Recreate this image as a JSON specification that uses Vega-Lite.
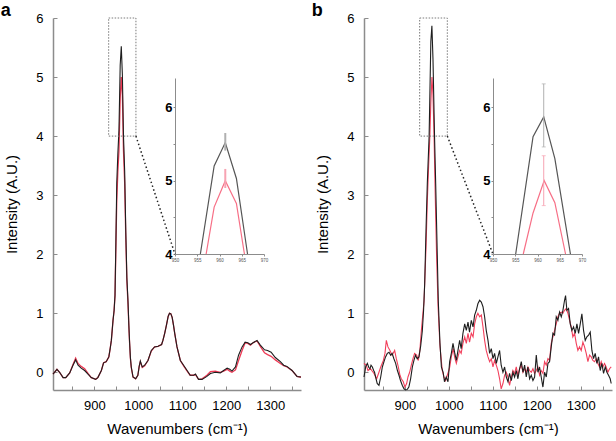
{
  "$schema": "https://vega.github.io/schema/vega-lite/v6.json",
  "padding": {"left": 0, "top": 2, "right": 0, "bottom": 0},
  "background": "white",
  "spacing": 7,
  "config": {
    "view": {"stroke": null},
    "font": "Liberation Sans",
    "scale": {"nice": false, "zero": false},
    "axis": {"grid": false, "domainColor": "#8c8c8c", "domainWidth": 1.5, "tickColor": "#8c8c8c", "labelColor": "#000", "titleColor": "#000", "labelFont": "Liberation Sans", "titleFont": "Liberation Sans", "titleFontWeight": "normal", "labelOverlap": false},
    "title": {"font": "Liberation Sans", "fontSize": 18, "fontWeight": "bold", "anchor": "start", "frame": "bounds", "offset": -8, "dx": -4, "color": "#000"}
  },
  "datasets": {
    "a_black": [
      {"x":806,"y":-0.03},{"x":815,"y":0.05},{"x":821,"y":0.0},{"x":829,"y":-0.09},{"x":835,"y":-0.09},{"x":844,"y":-0.01},{"x":851.5,"y":0.12},{"x":857.5,"y":0.21},{"x":863,"y":0.12},{"x":870,"y":0.07},{"x":878,"y":0.03},{"x":885.6,"y":-0.03},{"x":893,"y":-0.09},{"x":903,"y":-0.12},{"x":908,"y":-0.09},{"x":916,"y":0.03},{"x":921,"y":0.16},{"x":927,"y":0.18},{"x":933,"y":0.26},{"x":936,"y":0.4},{"x":938.7,"y":0.54},{"x":942.5,"y":0.88},{"x":945,"y":1.05},{"x":947,"y":1.3},{"x":949,"y":2.2},{"x":951,"y":3.2},{"x":953.5,"y":3.7},{"x":956,"y":4.1},{"x":958.8,"y":5.2},{"x":961.3,"y":5.52},{"x":963.8,"y":5.03},{"x":966.3,"y":4.0},{"x":969,"y":3.4},{"x":971.5,"y":2.4},{"x":974,"y":1.6},{"x":976.6,"y":1.2},{"x":978.5,"y":0.8},{"x":980,"y":0.54},{"x":982,"y":0.25},{"x":984,"y":0.09},{"x":988,"y":-0.08},{"x":994,"y":-0.11},{"x":999,"y":-0.05},{"x":1002,"y":0.1},{"x":1004.6,"y":0.19},{"x":1009,"y":0.09},{"x":1014.5,"y":0.12},{"x":1022,"y":0.2},{"x":1029.6,"y":0.37},{"x":1037,"y":0.43},{"x":1045,"y":0.44},{"x":1050,"y":0.46},{"x":1053,"y":0.47},{"x":1056,"y":0.54},{"x":1060,"y":0.66},{"x":1064,"y":0.8},{"x":1068,"y":0.95},{"x":1071,"y":1.0},{"x":1074,"y":0.99},{"x":1077,"y":0.93},{"x":1080,"y":0.8},{"x":1083,"y":0.65},{"x":1088,"y":0.43},{"x":1095.6,"y":0.2},{"x":1103,"y":0.12},{"x":1111,"y":0.03},{"x":1118,"y":-0.05},{"x":1126,"y":-0.05},{"x":1130,"y":-0.03},{"x":1137,"y":-0.12},{"x":1145,"y":-0.12},{"x":1156,"y":-0.07},{"x":1164,"y":-0.02},{"x":1175,"y":0.0},{"x":1186.5,"y":-0.01},{"x":1194,"y":0.03},{"x":1202,"y":0.07},{"x":1208,"y":0.05},{"x":1213,"y":0.02},{"x":1221,"y":0.09},{"x":1228,"y":0.29},{"x":1236,"y":0.43},{"x":1243,"y":0.51},{"x":1249,"y":0.5},{"x":1255,"y":0.47},{"x":1261,"y":0.5},{"x":1270,"y":0.54},{"x":1277.5,"y":0.46},{"x":1287,"y":0.38},{"x":1294,"y":0.37},{"x":1302,"y":0.34},{"x":1311.6,"y":0.25},{"x":1323,"y":0.18},{"x":1330.6,"y":0.12},{"x":1338,"y":0.1},{"x":1349.6,"y":0.03},{"x":1361,"y":-0.07},{"x":1368.5,"y":-0.08},{"x":1370,"y":-0.08}
    ],
    "a_red": [
      {"x":806,"y":-0.03},{"x":815,"y":0.05},{"x":821,"y":0.0},{"x":829,"y":-0.09},{"x":835,"y":-0.09},{"x":844,"y":-0.01},{"x":851.5,"y":0.13},{"x":857.5,"y":0.24},{"x":863,"y":0.15},{"x":870,"y":0.1},{"x":878,"y":0.06},{"x":885.6,"y":-0.02},{"x":893,"y":-0.09},{"x":903,"y":-0.12},{"x":908,"y":-0.09},{"x":916,"y":0.03},{"x":921,"y":0.16},{"x":927,"y":0.18},{"x":933,"y":0.26},{"x":936,"y":0.4},{"x":938.7,"y":0.54},{"x":942.5,"y":0.88},{"x":945,"y":1.05},{"x":947,"y":1.3},{"x":949,"y":2.1},{"x":951,"y":2.9},{"x":953.5,"y":3.4},{"x":956,"y":3.75},{"x":958.8,"y":4.64},{"x":961.3,"y":5.0},{"x":963.8,"y":4.69},{"x":966.3,"y":3.75},{"x":969,"y":3.2},{"x":971.5,"y":2.3},{"x":974,"y":1.55},{"x":976.6,"y":1.15},{"x":978.5,"y":0.78},{"x":980,"y":0.52},{"x":982,"y":0.24},{"x":984,"y":0.08},{"x":988,"y":-0.08},{"x":994,"y":-0.11},{"x":999,"y":-0.05},{"x":1002,"y":0.1},{"x":1004.6,"y":0.18},{"x":1009,"y":0.08},{"x":1014.5,"y":0.11},{"x":1022,"y":0.2},{"x":1029.6,"y":0.36},{"x":1037,"y":0.43},{"x":1045,"y":0.44},{"x":1050,"y":0.46},{"x":1053,"y":0.47},{"x":1056,"y":0.54},{"x":1060,"y":0.66},{"x":1064,"y":0.8},{"x":1068,"y":0.95},{"x":1071,"y":1.0},{"x":1074,"y":0.99},{"x":1077,"y":0.93},{"x":1080,"y":0.8},{"x":1083,"y":0.65},{"x":1088,"y":0.43},{"x":1095.6,"y":0.2},{"x":1103,"y":0.11},{"x":1111,"y":0.02},{"x":1118,"y":-0.05},{"x":1126,"y":-0.05},{"x":1130,"y":-0.04},{"x":1137,"y":-0.12},{"x":1145,"y":-0.11},{"x":1156,"y":-0.05},{"x":1164,"y":0.01},{"x":1175,"y":0.02},{"x":1186.5,"y":0.0},{"x":1194,"y":0.02},{"x":1202,"y":0.05},{"x":1208,"y":0.02},{"x":1213,"y":0.0},{"x":1221,"y":0.04},{"x":1228,"y":0.2},{"x":1236,"y":0.37},{"x":1243,"y":0.5},{"x":1249,"y":0.49},{"x":1255,"y":0.46},{"x":1261,"y":0.5},{"x":1270,"y":0.53},{"x":1277.5,"y":0.44},{"x":1287,"y":0.33},{"x":1294,"y":0.3},{"x":1302,"y":0.27},{"x":1311.6,"y":0.21},{"x":1323,"y":0.15},{"x":1330.6,"y":0.11},{"x":1338,"y":0.09},{"x":1349.6,"y":0.03},{"x":1361,"y":-0.07},{"x":1368.5,"y":-0.08},{"x":1370,"y":-0.08}
    ],
    "b_black": [
      {"x":807,"y":-0.08},{"x":811,"y":0.1},{"x":814.6,"y":0.15},{"x":818,"y":0.08},{"x":820.6,"y":0.06},{"x":823,"y":0.12},{"x":826,"y":0.09},{"x":829,"y":0.03},{"x":831,"y":0.0},{"x":834,"y":-0.1},{"x":837,"y":-0.19},{"x":841,"y":-0.22},{"x":845,"y":-0.08},{"x":848.7,"y":0.09},{"x":852.5,"y":0.18},{"x":856,"y":0.26},{"x":860,"y":0.32},{"x":864,"y":0.34},{"x":867.6,"y":0.29},{"x":871,"y":0.32},{"x":875,"y":0.23},{"x":879,"y":0.15},{"x":883,"y":0.03},{"x":886.5,"y":-0.05},{"x":890,"y":-0.14},{"x":894,"y":-0.22},{"x":898,"y":-0.28},{"x":901.7,"y":-0.3},{"x":905.5,"y":-0.29},{"x":909,"y":-0.25},{"x":913,"y":-0.11},{"x":917,"y":0.09},{"x":920.6,"y":0.2},{"x":924,"y":0.29},{"x":928,"y":0.23},{"x":932,"y":0.26},{"x":936,"y":0.45},{"x":939.6,"y":0.7},{"x":942.5,"y":1.05},{"x":945,"y":1.5},{"x":948,"y":2.4},{"x":951,"y":3.2},{"x":955.1,"y":4.0},{"x":959,"y":5.6},{"x":961.4,"y":5.87},{"x":963.9,"y":5.3},{"x":967.4,"y":4.0},{"x":970,"y":3.2},{"x":973,"y":2.2},{"x":976,"y":1.2},{"x":979.7,"y":0.5},{"x":983,"y":0.09},{"x":987,"y":0.0},{"x":990,"y":-0.16},{"x":994,"y":-0.08},{"x":998,"y":-0.16},{"x":1001.8,"y":0.18},{"x":1005.6,"y":0.32},{"x":1009.4,"y":0.49},{"x":1013,"y":0.34},{"x":1017,"y":0.2},{"x":1020.7,"y":0.37},{"x":1024.5,"y":0.54},{"x":1028,"y":0.4},{"x":1032,"y":0.66},{"x":1036,"y":0.82},{"x":1039.7,"y":0.71},{"x":1043.5,"y":0.85},{"x":1047,"y":0.68},{"x":1051,"y":0.88},{"x":1055,"y":0.77},{"x":1058.6,"y":0.97},{"x":1062.4,"y":1.05},{"x":1066,"y":1.16},{"x":1070,"y":1.22},{"x":1073.8,"y":1.19},{"x":1077.6,"y":1.11},{"x":1081.3,"y":0.94},{"x":1085,"y":0.71},{"x":1089,"y":0.54},{"x":1092.7,"y":0.32},{"x":1096.5,"y":0.4},{"x":1100.3,"y":0.23},{"x":1104,"y":0.32},{"x":1107.9,"y":0.15},{"x":1111.6,"y":0.26},{"x":1115.4,"y":0.37},{"x":1119,"y":0.12},{"x":1123,"y":0.0},{"x":1126.8,"y":0.09},{"x":1130.6,"y":-0.08},{"x":1134.4,"y":-0.16},{"x":1138,"y":-0.02},{"x":1142,"y":-0.14},{"x":1145.7,"y":0.0},{"x":1149.5,"y":-0.08},{"x":1153.3,"y":0.03},{"x":1157,"y":-0.11},{"x":1160.9,"y":0.06},{"x":1164.7,"y":0.18},{"x":1168.5,"y":0.0},{"x":1172.3,"y":0.12},{"x":1176,"y":-0.08},{"x":1179.8,"y":0.09},{"x":1183.6,"y":-0.11},{"x":1187.4,"y":-0.05},{"x":1191.2,"y":-0.14},{"x":1195,"y":-0.08},{"x":1198.8,"y":0.29},{"x":1202.5,"y":0.0},{"x":1206.3,"y":0.09},{"x":1210,"y":-0.08},{"x":1213.9,"y":-0.25},{"x":1217.7,"y":0.0},{"x":1221.5,"y":-0.08},{"x":1225.3,"y":0.15},{"x":1229,"y":0.18},{"x":1232.8,"y":0.43},{"x":1236.6,"y":0.66},{"x":1240.4,"y":0.63},{"x":1244.2,"y":0.94},{"x":1248,"y":0.88},{"x":1251.8,"y":1.02},{"x":1255.6,"y":0.94},{"x":1259.4,"y":1.05},{"x":1263.1,"y":1.22},{"x":1265.4,"y":1.3},{"x":1268.4,"y":1.05},{"x":1272.2,"y":1.08},{"x":1276,"y":0.82},{"x":1279.8,"y":0.71},{"x":1283.6,"y":0.77},{"x":1287.4,"y":0.66},{"x":1291.2,"y":0.82},{"x":1295,"y":0.66},{"x":1298.8,"y":0.82},{"x":1302.5,"y":0.99},{"x":1306.3,"y":0.71},{"x":1310.1,"y":0.54},{"x":1313.9,"y":0.6},{"x":1317.7,"y":0.63},{"x":1321.5,"y":0.68},{"x":1325.3,"y":0.37},{"x":1329,"y":0.23},{"x":1332.8,"y":0.32},{"x":1336.6,"y":0.15},{"x":1340.4,"y":0.26},{"x":1344.2,"y":0.03},{"x":1348,"y":0.15},{"x":1351.8,"y":-0.02},{"x":1355.6,"y":0.09},{"x":1359.4,"y":0.0},{"x":1363.1,"y":-0.05},{"x":1366.9,"y":-0.11},{"x":1369.2,"y":-0.19}
    ],
    "b_red": [
      {"x":807,"y":0.15},{"x":812,"y":0.12},{"x":816,"y":0.03},{"x":821.7,"y":0.06},{"x":829.7,"y":-0.02},{"x":835.8,"y":-0.11},{"x":841,"y":0.0},{"x":845,"y":0.09},{"x":851,"y":0.2},{"x":854.7,"y":0.32},{"x":857.8,"y":0.54},{"x":861.5,"y":0.43},{"x":866,"y":0.37},{"x":871,"y":0.29},{"x":876.7,"y":0.37},{"x":880.5,"y":0.23},{"x":885,"y":0.09},{"x":888.8,"y":-0.05},{"x":891.8,"y":-0.11},{"x":896.4,"y":-0.16},{"x":900,"y":-0.25},{"x":904,"y":-0.19},{"x":907,"y":-0.08},{"x":910.8,"y":0.0},{"x":914.6,"y":0.12},{"x":918.4,"y":0.23},{"x":922,"y":0.32},{"x":926.7,"y":0.29},{"x":930.5,"y":0.2},{"x":934,"y":0.37},{"x":937.5,"y":0.71},{"x":941,"y":1.0},{"x":943.5,"y":1.2},{"x":948,"y":2.1},{"x":951,"y":2.9},{"x":954,"y":3.5},{"x":956.8,"y":4.0},{"x":959,"y":4.56},{"x":961.5,"y":5.0},{"x":963.9,"y":4.7},{"x":966.3,"y":4.0},{"x":969,"y":3.0},{"x":972,"y":2.0},{"x":975.5,"y":1.1},{"x":979.7,"y":0.45},{"x":985,"y":0.03},{"x":988.8,"y":-0.08},{"x":992.6,"y":-0.14},{"x":996.4,"y":-0.05},{"x":1000,"y":0.03},{"x":1002,"y":0.09},{"x":1006,"y":0.28},{"x":1010,"y":0.4},{"x":1013,"y":0.26},{"x":1017,"y":0.15},{"x":1020.7,"y":0.26},{"x":1024.5,"y":0.37},{"x":1028,"y":0.32},{"x":1032,"y":0.49},{"x":1036,"y":0.6},{"x":1039.7,"y":0.49},{"x":1043.5,"y":0.66},{"x":1047,"y":0.51},{"x":1051,"y":0.66},{"x":1055,"y":0.6},{"x":1058.6,"y":0.82},{"x":1062.4,"y":0.94},{"x":1066,"y":1.0},{"x":1070,"y":0.94},{"x":1073.8,"y":0.97},{"x":1077.6,"y":0.77},{"x":1081.3,"y":0.54},{"x":1085,"y":0.37},{"x":1089,"y":0.26},{"x":1092.7,"y":0.18},{"x":1096.5,"y":0.23},{"x":1100.3,"y":0.09},{"x":1104,"y":0.2},{"x":1107.9,"y":0.12},{"x":1111.6,"y":0.03},{"x":1115.4,"y":-0.11},{"x":1119,"y":-0.28},{"x":1123,"y":-0.19},{"x":1126.8,"y":-0.05},{"x":1130.6,"y":0.0},{"x":1134.4,"y":-0.08},{"x":1138,"y":-0.22},{"x":1142,"y":-0.08},{"x":1145.7,"y":0.03},{"x":1149.5,"y":-0.02},{"x":1153.3,"y":0.09},{"x":1157,"y":-0.05},{"x":1160.9,"y":0.06},{"x":1164.7,"y":0.12},{"x":1168.5,"y":0.0},{"x":1172.3,"y":0.06},{"x":1176,"y":0.0},{"x":1179.8,"y":0.09},{"x":1183.6,"y":0.03},{"x":1187.4,"y":0.0},{"x":1191.2,"y":0.06},{"x":1195,"y":-0.02},{"x":1198.8,"y":0.03},{"x":1202.5,"y":0.09},{"x":1206.3,"y":-0.05},{"x":1210,"y":0.03},{"x":1213.9,"y":-0.02},{"x":1217.7,"y":0.18},{"x":1221.5,"y":0.12},{"x":1225.3,"y":0.23},{"x":1229,"y":0.2},{"x":1232.8,"y":0.49},{"x":1236.6,"y":0.6},{"x":1240.4,"y":0.71},{"x":1244.2,"y":0.82},{"x":1248,"y":0.94},{"x":1251.8,"y":1.0},{"x":1255.6,"y":1.02},{"x":1259.4,"y":1.0},{"x":1263.1,"y":1.05},{"x":1266.9,"y":1.08},{"x":1270.7,"y":1.0},{"x":1274.5,"y":0.88},{"x":1278.3,"y":0.77},{"x":1282,"y":0.6},{"x":1285.9,"y":0.66},{"x":1289.7,"y":0.49},{"x":1293.4,"y":0.37},{"x":1297.2,"y":0.43},{"x":1301,"y":0.37},{"x":1304.8,"y":0.51},{"x":1308.6,"y":0.43},{"x":1312.4,"y":0.32},{"x":1316.2,"y":0.18},{"x":1320,"y":0.29},{"x":1323.8,"y":0.26},{"x":1327.5,"y":0.2},{"x":1331.3,"y":0.18},{"x":1335.1,"y":0.23},{"x":1338.9,"y":0.15},{"x":1342.7,"y":0.09},{"x":1346.5,"y":0.18},{"x":1350.3,"y":0.09},{"x":1354,"y":0.15},{"x":1357.8,"y":0.09},{"x":1361.6,"y":0.0},{"x":1365.4,"y":0.06},{"x":1369.2,"y":0.09}
    ],
    "a_inset_black": [{"x":955.7,"y":4.0},{"x":958.8,"y":5.2},{"x":961.3,"y":5.52},{"x":963.8,"y":5.03},{"x":966.3,"y":4.0}],
    "a_inset_red": [{"x":957.0,"y":4.0},{"x":958.8,"y":4.64},{"x":961.3,"y":5.0},{"x":963.8,"y":4.69},{"x":965.6,"y":4.0}],
    "a_err": [{"series":"black","x":961.3,"lo":5.41,"hi":5.65},{"series":"red","x":961.3,"lo":4.9,"hi":5.16}],
    "b_inset_black": [{"x":955.1,"y":4.0},{"x":959,"y":5.6},{"x":961.4,"y":5.87},{"x":963.9,"y":5.3},{"x":967.4,"y":4.0}],
    "b_inset_red": [{"x":956.8,"y":4.0},{"x":959,"y":4.56},{"x":961.5,"y":5.0},{"x":963.9,"y":4.7},{"x":966.3,"y":4.0}],
    "b_err": [{"series":"black","x":961.4,"lo":5.46,"hi":6.32},{"series":"red","x":961.4,"lo":4.66,"hi":5.34}],
    "a_box": [{"x1":932.6,"x2":994.6,"y1":4,"y2":6}],
    "a_link": [{"x1":994.6,"y1":4,"x2":1083.5,"y2":2.0}],
    "b_box": [{"x1":933.6,"x2":996.5,"y1":4,"y2":6}],
    "b_link": [{"x1":996.5,"y1":4,"x2":1100.4,"y2":2.0}]
  },
  "hconcat": [
    {
      "width": 248, "height": 372,
      "title": {"text": "a"},
      "layer": [
        {
          "layer": [
            {"data": {"name": "a_red"}, "mark": {"type": "line", "color": "#ee3a55", "strokeWidth": 1.3},
             "encoding": {"x": {"field": "x", "type": "quantitative", "scale": {"domain": [806, 1370], "nice": false},
                "axis": {"title": "Wavenumbers (cm⁻¹)", "titleFontSize": 15, "titlePadding": 9, "values": [900,1000,1100,1200,1300], "format": "d", "labelFontSize": 13, "tickSize": -4, "labelPadding": 13, "labelFlush": false}},
              "y": {"field": "y", "type": "quantitative", "scale": {"domain": [-0.3, 6], "nice": false},
                "axis": {"title": "Intensity (A.U.)", "titleFontSize": 15, "titlePadding": 16, "values": [0,0.5,1,1.5,2,2.5,3,3.5,4,4.5,5,5.5,6], "labelExpr": "datum.value % 1 === 0 ? format(datum.value, 'd') : ''", "labelFontSize": 13, "tickSize": -4, "labelPadding": 14, "labelFlush": false}}}},
            {"data": {"name": "a_black"}, "mark": {"type": "line", "color": "#1e1e1e", "strokeWidth": 1.1},
             "encoding": {"x": {"field": "x", "type": "quantitative"}, "y": {"field": "y", "type": "quantitative"}}},
            {"data": {"name": "a_box"}, "mark": {"type": "rect", "fillOpacity": 0, "stroke": "#7a7a7a", "strokeWidth": 1, "strokeDash": [1.5, 1.5]},
             "encoding": {"x": {"field": "x1", "type": "quantitative"}, "x2": {"field": "x2"}, "y": {"field": "y1", "type": "quantitative"}, "y2": {"field": "y2"}}},
            {"data": {"name": "a_link"}, "mark": {"type": "rule", "color": "#222", "strokeWidth": 1.5, "strokeDash": [1.5, 2.5]},
             "encoding": {"x": {"field": "x1", "type": "quantitative"}, "x2": {"field": "x2"}, "y": {"field": "y1", "type": "quantitative"}, "y2": {"field": "y2"}}}
          ]
        },
        {
          "layer": [
            {"data": {"name": "a_inset_black"}, "mark": {"type": "line", "color": "#555", "strokeWidth": 1.2},
             "encoding": {"x": {"field": "x", "type": "quantitative", "scale": {"domain": [950, 970], "range": [122, 211], "nice": false},
                "axis": {"orient": "bottom", "offset": -136, "title": null, "values": [950,952.5,955,957.5,960,962.5,965,967.5,970], "labelExpr": "datum.value % 5 === 0 ? format(datum.value, 'd') : ''", "labelFontSize": 4.5, "labelColor": "#555", "tickSize": 2, "labelPadding": 1, "domainWidth": 1, "labelFlush": false}},
              "y": {"field": "y", "type": "quantitative", "scale": {"domain": [4, 6.4], "range": [236, 60], "nice": false},
                "axis": {"orient": "left", "offset": -122, "title": null, "values": [4,4.5,5,5.5,6], "labelExpr": "datum.value % 1 === 0 ? format(datum.value, 'd') : ''", "labelFontSize": 13, "labelFontWeight": "bold", "tickSize": 2, "labelPadding": 1, "domainWidth": 1, "labelFlush": false}}}},
            {"data": {"name": "a_inset_red"}, "mark": {"type": "line", "color": "#f76f86", "strokeWidth": 1.2},
             "encoding": {"x": {"field": "x", "type": "quantitative"}, "y": {"field": "y", "type": "quantitative"}}},
            {"data": {"name": "a_err"}, "mark": {"type": "rule", "strokeWidth": 2},
             "encoding": {"x": {"field": "x", "type": "quantitative"}, "y": {"field": "lo", "type": "quantitative"}, "y2": {"field": "hi"},
               "color": {"field": "series", "type": "nominal", "scale": {"domain": ["black", "red"], "range": ["#b0b0b0", "#f7a3b2"]}, "legend": null}}}
          ]
        },
        {"data": {"name": "a_box"}, "mark": {"type": "point", "opacity": 0},
         "encoding": {"x": {"field": "x1", "type": "quantitative", "scale": {"domain": [806, 1370], "nice": false},
           "axis": {"orient": "bottom", "values": [850,950,1050,1150,1250,1350], "labels": false, "domain": false, "title": null, "tickSize": -4}}}}
      ],
      "resolve": {"scale": {"x": "independent", "y": "independent"}, "axis": {"x": "independent", "y": "independent"}}
    },
    {
      "width": 248, "height": 372,
      "title": {"text": "b"},
      "layer": [
        {
          "layer": [
            {"data": {"name": "b_red"}, "mark": {"type": "line", "color": "#f2405c", "strokeWidth": 1.1},
             "encoding": {"x": {"field": "x", "type": "quantitative", "scale": {"domain": [807, 1371], "nice": false},
                "axis": {"title": "Wavenumbers (cm⁻¹)", "titleFontSize": 15, "titlePadding": 9, "values": [900,1000,1100,1200,1300], "format": "d", "labelFontSize": 13, "tickSize": -4, "labelPadding": 13, "labelFlush": false}},
              "y": {"field": "y", "type": "quantitative", "scale": {"domain": [-0.3, 6], "nice": false},
                "axis": {"title": "Intensity (A.U.)", "titleFontSize": 15, "titlePadding": 16, "values": [0,0.5,1,1.5,2,2.5,3,3.5,4,4.5,5,5.5,6], "labelExpr": "datum.value % 1 === 0 ? format(datum.value, 'd') : ''", "labelFontSize": 13, "tickSize": -4, "labelPadding": 14, "labelFlush": false}}}},
            {"data": {"name": "b_black"}, "mark": {"type": "line", "color": "#1e1e1e", "strokeWidth": 1.1},
             "encoding": {"x": {"field": "x", "type": "quantitative"}, "y": {"field": "y", "type": "quantitative"}}},
            {"data": {"name": "b_box"}, "mark": {"type": "rect", "fillOpacity": 0, "stroke": "#7a7a7a", "strokeWidth": 1, "strokeDash": [1.5, 1.5]},
             "encoding": {"x": {"field": "x1", "type": "quantitative"}, "x2": {"field": "x2"}, "y": {"field": "y1", "type": "quantitative"}, "y2": {"field": "y2"}}},
            {"data": {"name": "b_link"}, "mark": {"type": "rule", "color": "#222", "strokeWidth": 1.5, "strokeDash": [1.5, 2.5]},
             "encoding": {"x": {"field": "x1", "type": "quantitative"}, "x2": {"field": "x2"}, "y": {"field": "y1", "type": "quantitative"}, "y2": {"field": "y2"}}}
          ]
        },
        {
          "layer": [
            {"data": {"name": "b_inset_black"}, "mark": {"type": "line", "color": "#555", "strokeWidth": 1.2},
             "encoding": {"x": {"field": "x", "type": "quantitative", "scale": {"domain": [950, 970], "range": [129, 218], "nice": false},
                "axis": {"orient": "bottom", "offset": -136, "title": null, "values": [950,952.5,955,957.5,960,962.5,965,967.5,970], "labelExpr": "datum.value % 5 === 0 ? format(datum.value, 'd') : ''", "labelFontSize": 4.5, "labelColor": "#555", "tickSize": 2, "labelPadding": 1, "domainWidth": 1, "labelFlush": false}},
              "y": {"field": "y", "type": "quantitative", "scale": {"domain": [4, 6.4], "range": [236, 60], "nice": false},
                "axis": {"orient": "left", "offset": -129, "title": null, "values": [4,4.5,5,5.5,6], "labelExpr": "datum.value % 1 === 0 ? format(datum.value, 'd') : ''", "labelFontSize": 13, "labelFontWeight": "bold", "tickSize": 2, "labelPadding": 1, "domainWidth": 1, "labelFlush": false}}}},
            {"data": {"name": "b_inset_red"}, "mark": {"type": "line", "color": "#f76f86", "strokeWidth": 1.2},
             "encoding": {"x": {"field": "x", "type": "quantitative"}, "y": {"field": "y", "type": "quantitative"}}},
            {"data": {"name": "b_err"}, "mark": {"type": "rule", "strokeWidth": 1},
             "encoding": {"x": {"field": "x", "type": "quantitative"}, "y": {"field": "lo", "type": "quantitative"}, "y2": {"field": "hi"},
               "color": {"field": "series", "type": "nominal", "scale": {"domain": ["black", "red"], "range": ["#8a8a8a", "#f58a9c"]}, "legend": null}}},
            {"data": {"name": "b_err"}, "mark": {"type": "tick", "orient": "horizontal", "size": 4, "thickness": 1},
             "encoding": {"x": {"field": "x", "type": "quantitative"}, "y": {"field": "lo", "type": "quantitative"},
               "color": {"field": "series", "type": "nominal", "legend": null}}},
            {"data": {"name": "b_err"}, "mark": {"type": "tick", "orient": "horizontal", "size": 4, "thickness": 1},
             "encoding": {"x": {"field": "x", "type": "quantitative"}, "y": {"field": "hi", "type": "quantitative"},
               "color": {"field": "series", "type": "nominal", "legend": null}}}
          ]
        },
        {"data": {"name": "b_box"}, "mark": {"type": "point", "opacity": 0},
         "encoding": {"x": {"field": "x1", "type": "quantitative", "scale": {"domain": [807, 1371], "nice": false},
           "axis": {"orient": "bottom", "values": [850,950,1050,1150,1250,1350], "labels": false, "domain": false, "title": null, "tickSize": -4}}}}
      ],
      "resolve": {"scale": {"x": "independent", "y": "independent"}, "axis": {"x": "independent", "y": "independent"}}
    }
  ]
}
